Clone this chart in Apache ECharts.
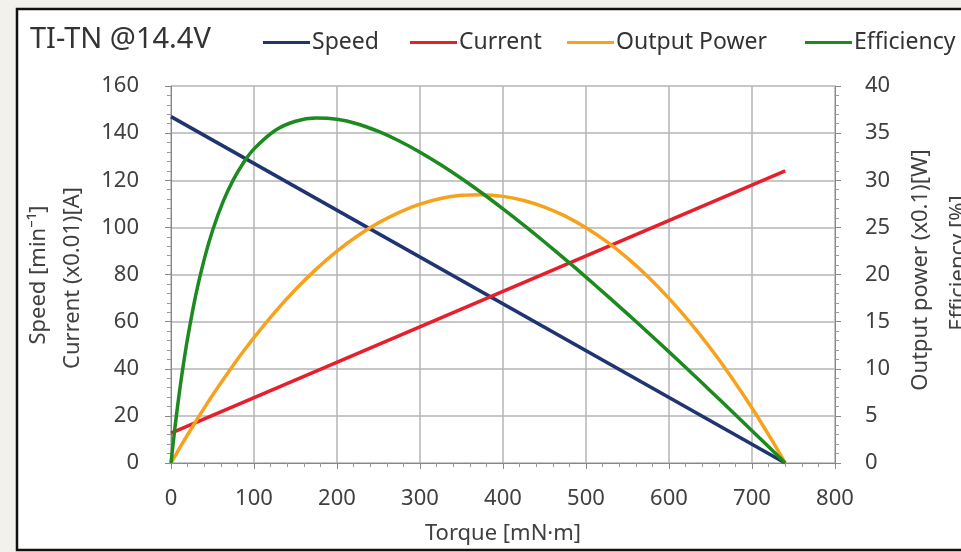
<!DOCTYPE html>
<html>
<head>
<meta charset="utf-8">
<script src="https://cdn.jsdelivr.net/npm/echarts@6/dist/echarts.min.js"></script>
<style>
  html, body { margin: 0; padding: 0; background: #f3f1ec; }
  #chart { width: 961px; height: 552px; }
</style>
</head>
<body>
<div id="chart"></div>
<script>
// torque [mN·m]
const lineTorque = [0, 740];
const speed = [147, 0];        // min^-1
const current = [12.7, 124];   // x0.01 A

const curveTorque = [0, 5, 10, 15, 20, 30, 40, 50, 62.5, 75, 87.5, 100, 125, 150, 175, 200, 225, 250, 275, 300, 325, 350, 375, 400, 425, 450, 475, 500, 525, 550, 575, 600, 625, 650, 675, 700, 725, 740];
// x0.1 W
const outputPower = [0, 0.76, 1.52, 2.26, 3.0, 4.43, 5.82, 7.18, 8.81, 10.38, 11.88, 13.31, 15.99, 18.41, 20.57, 22.47, 24.11, 25.48, 26.6, 27.46, 28.06, 28.4, 28.47, 28.29, 27.85, 27.15, 26.19, 24.96, 23.48, 21.74, 19.74, 17.47, 14.95, 12.17, 9.13, 5.83, 2.26, 0];
// %
const efficiency = [0, 3.95, 7.42, 10.5, 13.24, 17.88, 21.61, 24.65, 27.68, 30.04, 31.89, 33.33, 35.26, 36.26, 36.61, 36.47, 35.97, 35.18, 34.17, 32.98, 31.64, 30.18, 28.62, 26.96, 25.24, 23.45, 21.61, 19.72, 17.79, 15.82, 13.82, 11.79, 9.73, 7.65, 5.55, 3.43, 1.29, 0];

const names = ['Speed', 'Current', 'Output Power', 'Efficiency'];
const colors = ['#1f3470', '#e51f2b', '#f6a21c', '#1c8a1f'];

const font = 'Noto Sans';
const txt = '#404040';
const zip = (xs, ys) => xs.map((x, i) => [x, ys[i]]);

const chart = echarts.init(document.getElementById('chart'));

const legendLefts = [258, 405, 562, 800];

chart.setOption({
  backgroundColor: '#f3f1ec',
  animation: false,
  title: {
    text: 'TI-TN @14.4V',
    left: 25, top: 20,
    textStyle: { fontFamily: font, fontSize: 29, fontWeight: 'normal', color: '#333' }
  },
  legend: names.map((n, i) => ({
    data: [n],
    left: legendLefts[i], top: 26,
    icon: 'rect', itemWidth: 47, itemHeight: 3, itemGap: 0,
    textStyle: { fontFamily: font, fontSize: 23, color: '#333', padding: [0, 0, 0, -3] }
  })),
  grid: { left: 171, right: 126, top: 86, bottom: 89, containLabel: false, outerBoundsMode: 'none' },
  xAxis: {
    type: 'value', min: 0, max: 800, interval: 100,
    axisLine: { lineStyle: { color: '#888' } },
    axisTick: { show: true, length: 6, lineStyle: { color: '#888' } },
    minorTick: { show: true, splitNumber: 5, length: 4, lineStyle: { color: '#999' } },
    axisLabel: { fontFamily: font, fontSize: 22, color: txt, margin: 25 },
    splitLine: { show: true, lineStyle: { color: '#b5b5b5', width: 1.5 } },
    name: 'Torque [mN\u00b7m]', nameLocation: 'middle', nameGap: 60,
    nameTextStyle: { fontFamily: font, fontSize: 22, color: txt }
  },
  yAxis: [
    {
      type: 'value', min: 0, max: 160, interval: 20,
      axisLine: { show: true, lineStyle: { color: '#888' } },
      axisTick: { show: true, length: 6, lineStyle: { color: '#888' } },
      minorTick: { show: true, splitNumber: 5, length: 4, lineStyle: { color: '#999' } },
      axisLabel: { fontFamily: font, fontSize: 22, color: txt, margin: 32 },
      splitLine: { show: true, lineStyle: { color: '#b5b5b5', width: 1.5 } }
    },
    {
      type: 'value', min: 0, max: 40, interval: 5, position: 'right',
      axisLine: { show: true, lineStyle: { color: '#888' } },
      axisTick: { show: true, length: 6, lineStyle: { color: '#888' } },
      minorTick: { show: true, splitNumber: 5, length: 4, lineStyle: { color: '#999' } },
      axisLabel: { fontFamily: font, fontSize: 22, color: txt, margin: 30 },
      splitLine: { show: false }
    }
  ],
  graphic: [
    {
      type: 'rect', z: -100, silent: true,
      shape: { x: 17, y: 9, width: 1000, height: 541 },
      style: { fill: '#fff', stroke: '#111', lineWidth: 2.5 }
    },
    {
      type: 'text', x: 39, y: 275, rotation: Math.PI / 2,
      style: { text: 'Speed [min\u207b\u00b9]', font: '22px "Noto Sans"', fill: txt, textAlign: 'center', textVerticalAlign: 'middle' }
    },
    {
      type: 'text', x: 73, y: 278, rotation: Math.PI / 2,
      style: { text: 'Current (x0.01)[A]', font: '22px "Noto Sans"', fill: txt, textAlign: 'center', textVerticalAlign: 'middle' }
    },
    {
      type: 'text', x: 921, y: 270, rotation: Math.PI / 2,
      style: { text: 'Output power (x0.1)[W]', font: '22px "Noto Sans"', fill: txt, textAlign: 'center', textVerticalAlign: 'middle' }
    },
    {
      type: 'text', x: 959, y: 263, rotation: Math.PI / 2,
      style: { text: 'Efficiency [%]', font: '22px "Noto Sans"', fill: txt, textAlign: 'center', textVerticalAlign: 'middle' }
    }
  ],
  series: [
    { name: 'Speed', type: 'line', yAxisIndex: 0, data: zip(lineTorque, speed), showSymbol: false, lineStyle: { width: 3.5, color: colors[0] }, itemStyle: { color: colors[0] } },
    { name: 'Current', type: 'line', yAxisIndex: 0, data: zip(lineTorque, current), showSymbol: false, lineStyle: { width: 3.5, color: colors[1] }, itemStyle: { color: colors[1] } },
    { name: 'Output Power', type: 'line', yAxisIndex: 1, data: zip(curveTorque, outputPower), smooth: 0.3, showSymbol: false, lineStyle: { width: 3.5, color: colors[2] }, itemStyle: { color: colors[2] } },
    { name: 'Efficiency', type: 'line', yAxisIndex: 1, data: zip(curveTorque, efficiency), smooth: 0.3, showSymbol: false, lineStyle: { width: 3.5, color: colors[3] }, itemStyle: { color: colors[3] } }
  ]
});
</script>
</body>
</html>
